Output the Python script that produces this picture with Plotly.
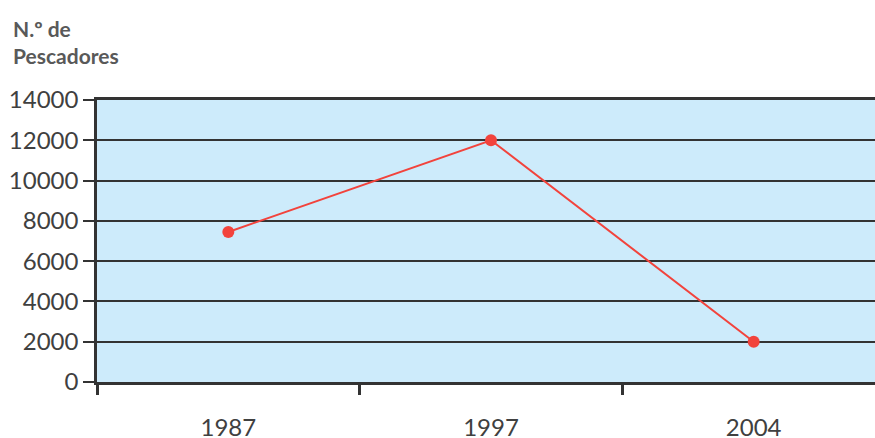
import plotly.graph_objects as go

# Number of fishermen per survey year
years = ["1987", "1997", "2004"]
fishermen = [7450, 12000, 2000]

y_ticks = [0, 2000, 4000, 6000, 8000, 10000, 12000, 14000]

AXIS_COLOR = "#333333"
TEXT_COLOR = "#404040"
FONT = "Lato"

FIG_W, FIG_H = 885, 438
MARGIN = dict(l=97, r=0, t=100, b=56)
PLOT_W = FIG_W - MARGIN["l"] - MARGIN["r"]
PLOT_H = FIG_H - MARGIN["t"] - MARGIN["b"]

fig = go.Figure()

fig.add_trace(go.Scatter(
    x=years,
    y=fishermen,
    mode="lines+markers",
    line=dict(color="#F2433C", width=2),
    marker=dict(color="#F2433C", size=12),
    hoverinfo="x+y",
    showlegend=False,
))

fig.update_layout(
    width=FIG_W,
    height=FIG_H,
    margin=dict(**MARGIN, autoexpand=False),
    paper_bgcolor="white",
    plot_bgcolor="#CDEBFB",
    font=dict(family=FONT, color=TEXT_COLOR, size=24),
    annotations=[
        dict(
            text="<b>N.º de<br>Pescadores</b>",
            xref="paper", yref="paper",
            x=-86 / PLOT_W, y=1 + 86 / PLOT_H,
            xanchor="left", yanchor="top",
            align="left",
            showarrow=False,
            font=dict(family=FONT, size=21, color="#595959"),
        )
    ],
)

fig.update_xaxes(
    type="category",
    range=[-0.5, len(years) - 0.5],
    tickson="boundaries",
    ticks="outside",
    ticklen=10,
    tickwidth=2.5,
    tickcolor=AXIS_COLOR,
    ticklabelstandoff=22,
    showline=True,
    linewidth=3,
    linecolor=AXIS_COLOR,
    mirror=True,
    showgrid=False,
    zeroline=False,
    automargin=False,
    tickfont=dict(family=FONT, size=24, color=TEXT_COLOR),
)

fig.update_yaxes(
    range=[0, 14000],
    tickvals=y_ticks,
    ticktext=[str(v) for v in y_ticks],
    ticks="outside",
    ticklen=11,
    tickwidth=2,
    tickcolor=AXIS_COLOR,
    ticklabelstandoff=0,
    showline=True,
    linewidth=2.5,
    linecolor=AXIS_COLOR,
    showgrid=True,
    gridcolor=AXIS_COLOR,
    gridwidth=1.5,
    zeroline=False,
    automargin=False,
    tickfont=dict(family=FONT, size=24, color=TEXT_COLOR),
)

# the figure runs past the right edge of the window; keep the page from scrolling
page_css = (
    "document.documentElement.style.overflow='hidden';"
    "document.body.style.overflow='hidden';"
    "document.body.style.margin='0';"
)

fig.write_html("out.html", post_script=page_css)
